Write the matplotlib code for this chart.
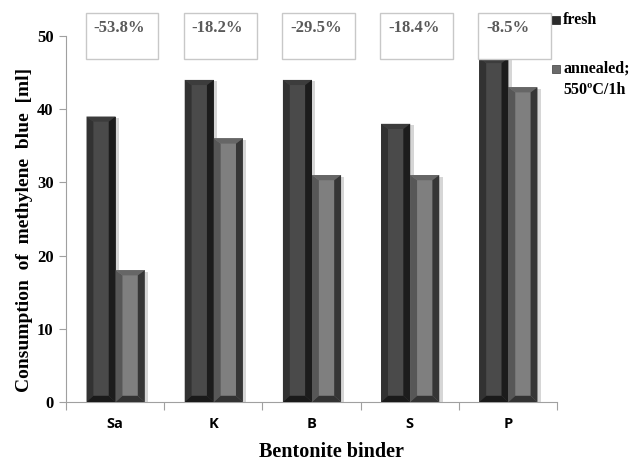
import matplotlib.pyplot as plt
from matplotlib.patches import Polygon, Rectangle

# Methylene blue consumption per bentonite binder
binders = ['Sa', 'K', 'B', 'S', 'P']
fresh = [39, 44, 44, 38, 47]
annealed = [18, 36, 31, 31, 43]
changes = ['-53.8%', '-18.2%', '-29.5%', '-18.4%', '-8.5%']

serif = 'Liberation Serif'
sans = 'Open Sans'

fig = plt.figure(figsize=(6.38, 4.61), dpi=100)
ax = fig.add_axes([66 / 638, 1 - 402 / 461, 491 / 638, 366 / 461])
ax.set_xlim(-0.5, 4.5)
ax.set_ylim(0, 50)

width = 0.296
bx = 0.07    # bevel width (x, data units)
by_top = 0.7
by_bot = 0.85

# colours: face, left, top, right, bottom
fresh_cols = ['#4a4a4a', '#323232', '#3c3c3c', '#1c1c1c', '#1a1a1a']
ann_cols = ['#7f7f7f', '#575757', '#666666', '#363636', '#333333']


def bevel_bar(x0, h, cols):
    x1 = x0 + width
    # soft shadow on the right
    ax.add_patch(Rectangle((x1, 0), 0.035, h - 0.2, color='#d6d6d6', lw=0, zorder=1))
    ax.add_patch(Rectangle((x0, 0), width, h, color=cols[0], lw=0, zorder=2))
    left = [(x0, 0), (x0, h), (x0 + bx, h - by_top), (x0 + bx, by_bot)]
    top = [(x0, h), (x1, h), (x1 - bx, h - by_top), (x0 + bx, h - by_top)]
    right = [(x1, 0), (x1, h), (x1 - bx, h - by_top), (x1 - bx, by_bot)]
    bottom = [(x0, 0), (x1, 0), (x1 - bx, by_bot), (x0 + bx, by_bot)]
    for pts, c in zip([left, top, right, bottom], cols[1:]):
        ax.add_patch(Polygon(pts, closed=True, color=c, lw=0, zorder=3))


for i in range(len(binders)):
    bevel_bar(i - width + 0.005, fresh[i], fresh_cols)
    bevel_bar(i + 0.005, annealed[i], ann_cols)

# percentage change boxes above each group
for i, lab in enumerate(changes):
    ax.add_patch(Rectangle((i + 0.07 - 0.37, 46.8), 0.74, 6.3, facecolor='white',
                           edgecolor='#c8c8c8', lw=1, zorder=5, clip_on=False))
    ax.text(i + 0.07 - 0.29, 51.1, lab, fontsize=12, fontweight='bold', family=serif,
            color='#5a5a5a', va='center', ha='left', zorder=6, clip_on=False)

# axes styling
for s in ['top', 'right']:
    ax.spines[s].set_visible(False)
for s in ['left', 'bottom']:
    ax.spines[s].set_color('#a0a0a0')
ax.set_yticks(range(0, 51, 10))
ax.set_yticklabels([str(v) for v in range(0, 51, 10)], fontsize=12,
                   fontweight='bold', family=serif)
ax.tick_params(axis='y', length=5, color='#a0a0a0', pad=4)

ax.set_xticks([i - 0.5 for i in range(len(binders) + 1)])
ax.set_xticklabels([])
ax.set_xticks(range(len(binders)), minor=True)
ax.set_xticklabels(binders, minor=True, fontsize=10.5, fontweight='bold', family=sans)
ax.tick_params(axis='x', which='major', length=6, color='#a0a0a0')
ax.tick_params(axis='x', which='minor', length=0, pad=11)

ax.set_ylabel('Consumption  of  methylene  blue  [ml]', fontsize=14,
              fontweight='bold', family=serif)
ax.yaxis.set_label_coords(-0.068, 0.47)
ax.set_xlabel('Bentonite binder', fontsize=14.5, fontweight='bold', family=serif)
ax.xaxis.set_label_coords((331 - 66) / 491, -0.11)

# legend at the right edge
fig.patches.append(Rectangle((552 / 638, 1 - 24 / 461), 8 / 638, 8 / 461,
                             facecolor='#2a2a2a', edgecolor='#1a1a1a', lw=0.5,
                             transform=fig.transFigure, figure=fig))
fig.text(563 / 638, 1 - 20 / 461, 'fresh', fontsize=11.5, fontweight='bold',
         family=serif, va='center', ha='left')
fig.patches.append(Rectangle((552 / 638, 1 - 73 / 461), 8 / 638, 8 / 461,
                             facecolor='#6a6a6a', edgecolor='#3a3a3a', lw=0.5,
                             transform=fig.transFigure, figure=fig))
fig.text(563 / 638, 1 - 69 / 461, 'annealed;', fontsize=11.5, fontweight='bold',
         family=serif, va='center', ha='left')
fig.text(563 / 638, 1 - 90 / 461, '550\u00baC/1h', fontsize=11.5, fontweight='bold',
         family=serif, va='center', ha='left')

fig.savefig('out.png', dpi=100)
